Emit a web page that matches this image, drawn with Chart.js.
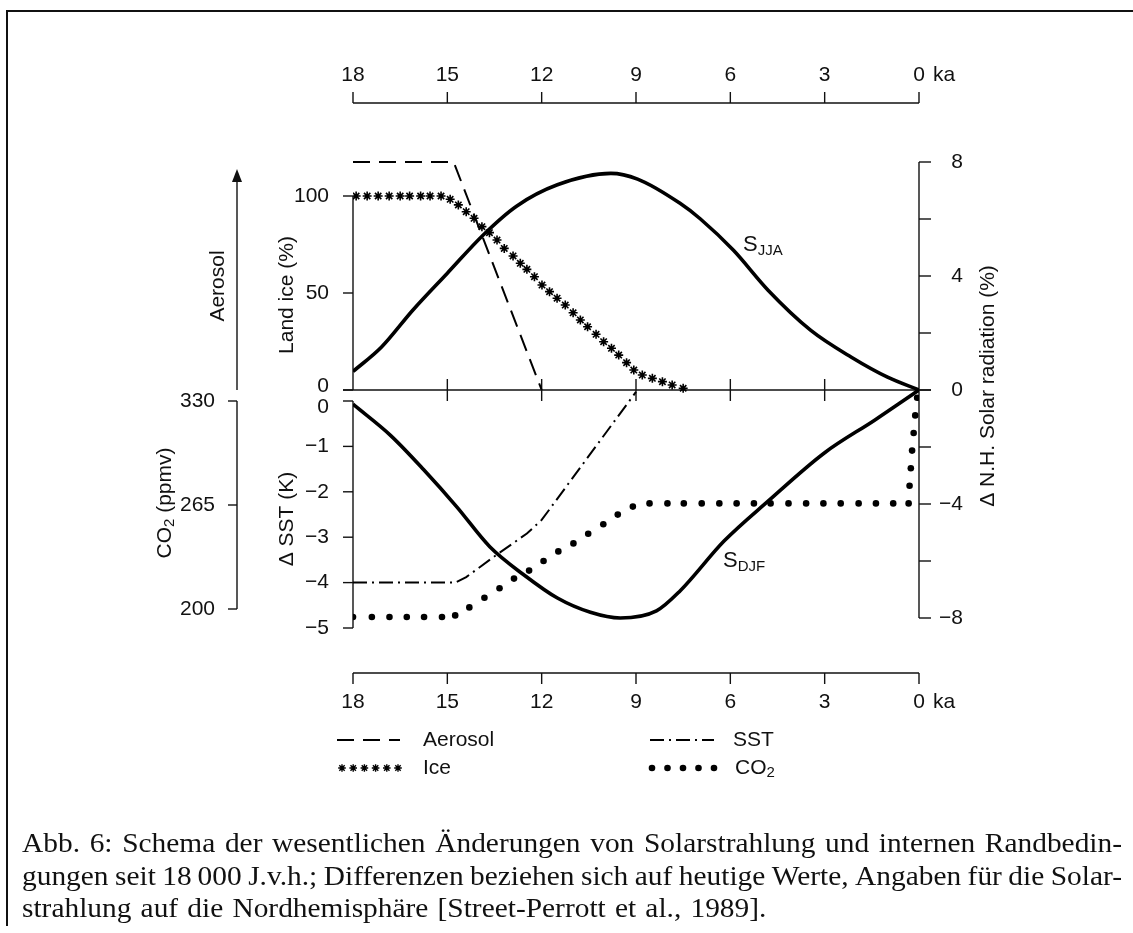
<!DOCTYPE html>
<html>
<head>
<meta charset="utf-8">
<script src="https://cdn.jsdelivr.net/npm/chart.js@4.4.0/dist/chart.umd.min.js"></script>
<style>
  html, body { margin: 0; padding: 0; background: #fff; }
  #chart { display: block; }
</style>
</head>
<body>
<canvas id="chart" width="1133" height="933"></canvas>
<script>
// ---------------------------------------------------------------
// Values (age in ka before present)
// ---------------------------------------------------------------
const ageTicks = [18, 15, 12, 9, 6, 3, 0];
const iceTicks = [0, 50, 100];
const sstTicks = [0, -1, -2, -3, -4, -5];
const co2Ticks = [330, 265, 200];
const solarTicks = [8, 6, 4, 2, 0, -2, -4, -6, -8];
const solarLabels = [8, 4, 0, -4, -8];

// summer (JJA) and winter (DJF) insolation anomaly, %
const sjjaAge = [18, 17.1, 16.1, 15.0, 13.85, 12.8, 11.5, 9.8, 8.95, 7.6, 6.95, 5.9, 4.8, 3.45, 2.15, 1.0, 0];
const sjjaVal = [0.65, 1.5, 2.8, 4.1, 5.45, 6.45, 7.2, 7.6, 7.4, 6.55, 6.0, 4.9, 3.5, 2.1, 1.15, 0.45, 0];
const sdjfAge = [18, 16.8, 15.75, 14.7, 13.65, 12.55, 11.5, 10.45, 9.5, 8.35, 7.6, 6.2, 4.8, 3.0, 1.4, 0];
const sdjfVal = [-0.5, -1.6, -2.8, -4.1, -5.5, -6.5, -7.3, -7.8, -8.0, -7.75, -7.05, -5.3, -3.9, -2.2, -1.05, 0];

// aerosol (relative, no scale)
const aerosolAge = [18, 14.8, 12.0];
const aerosolVal = [1, 1, 0];

// land ice, % of glacial maximum (one entry per star)
const iceAge = [17.9, 17.55, 17.2, 16.85, 16.5, 16.2, 15.85, 15.55, 15.2,
  14.91, 14.65, 14.4, 14.15, 13.9, 13.66, 13.42, 13.19, 12.91, 12.68,
  12.47, 12.23, 11.99, 11.75, 11.51, 11.25, 11.0, 10.77, 10.54, 10.27,
  10.03, 9.78, 9.55, 9.3, 9.07, 8.8, 8.48, 8.16, 7.85, 7.5];
const iceVal = [100, 100, 100, 100, 100, 100, 100, 100, 100,
  98.3, 95.4, 91.9, 88.5, 84.2, 81.1, 77.3, 73.0, 69.1, 65.3,
  62.2, 58.4, 54.1, 50.7, 47.3, 43.8, 39.8, 36.1, 32.6, 28.7,
  24.9, 21.5, 18.0, 14.1, 10.3, 7.7, 6.0, 4.3, 2.6, 0.9];

// sea surface temperature anomaly, K
const sstAge = [18, 14.75, 14.4, 13.4, 12.47, 12.0, 9.0];
const sstVal = [-4, -4, -3.88, -3.37, -2.92, -2.62, 0.2];

// CO2, ppmv (one entry per dot)
const co2Age = [18.0, 17.4, 16.84, 16.29, 15.74, 15.17, 14.75, 14.3, 13.82, 13.34,
  12.88, 12.4, 11.94, 11.47, 10.99, 10.52, 10.04, 9.58, 9.1, 8.57,
  8.0, 7.48, 6.91, 6.35, 5.8, 5.25, 4.72, 4.15, 3.59, 3.04,
  2.49, 1.92, 1.37, 0.82, 0.33, 0.3, 0.26, 0.22, 0.17, 0.12, 0.06];
const co2Val = [195, 195, 195, 195, 195, 195, 196, 201, 207, 213,
  219, 224, 230, 236, 241, 247, 253, 259, 264, 266,
  266, 266, 266, 266, 266, 266, 266, 266, 266, 266,
  266, 266, 266, 266, 266, 277, 288, 299, 310, 321, 332];

const captionLines = [
  'Abb. 6: Schema der wesentlichen Änderungen von Solarstrahlung und internen Randbedin-',
  'gungen seit 18\u2009000 J.v.h.; Differenzen beziehen sich auf heutige Werte, Angaben für die Solar-',
  'strahlung auf die Nordhemisphäre [Street-Perrott et al., 1989].'
];

// ---------------------------------------------------------------
// Layout
// ---------------------------------------------------------------
const W = 1133, H = 933;
const AREA = { left: 353, right: 919, top: 150, bottom: 640 };
const INK = '#111';
const SANS = '"Liberation Sans", Arial, Helvetica, sans-serif';
const SERIF = '"Liberation Serif", "Times New Roman", serif';
const FS = 21;          // axis text size
const STRETCH = 1.0;    // horizontal stretch of the axis lettering
const TICK = 10;
const TOP_AXIS_Y = 103, BOTTOM_AXIS_Y = 673;
const CO2_AXIS_X = 237;

// where two values of each vertical axis sit on the page
const ICE_PX = [[0, 390], [100, 196]];
const AER_PX = [[0, 390], [1, 162]];
const SST_PX = [[0, 401], [-5, 628]];
const CO2_PX = [[330, 401], [200, 609]];
const SOL_PX = [[8, 162], [-8, 618]];

function pxRange(anchors) {
    const [[v1, p1], [v2, p2]] = anchors;
    const s = (p2 - p1) / (v2 - v1);
    return { min: v1 + (AREA.bottom - p1) / s, max: v1 + (AREA.top - p1) / s };
}

const pts = (xs, ys) => xs.map((x, i) => ({ x, y: ys[i] }));

const STYLE = {
    solar: { width: 3.6 },
    aerosol: { width: 2, dash: [17, 9] },
    sst: { width: 2, dash: [14, 5, 2, 5] },
    ice: { radius: 4.5, width: 1.6 },
    co2: { radius: 3.3 }
};

// ---------------------------------------------------------------
// Drawing helpers
// ---------------------------------------------------------------
function seg(ctx, x1, y1, x2, y2) {
    ctx.beginPath(); ctx.moveTo(x1, y1); ctx.lineTo(x2, y2); ctx.stroke();
}

// parts: [{t, size, dy}] drawn in a row; anchor 'left' | 'center' | 'right'
function rich(ctx, parts, x, y, anchor, rot, stretch) {
    ctx.save();
    ctx.translate(x, y);
    ctx.scale(stretch || STRETCH, 1);
    ctx.rotate(rot || 0);
    let total = 0;
    parts.forEach(p => {
        ctx.font = `${p.size || FS}px ${p.font || SANS}`;
        p.w = ctx.measureText(p.t).width;
        total += p.w;
    });
    let cx = anchor === 'left' ? 0 : anchor === 'right' ? -total : -total / 2;
    ctx.textAlign = 'left';
    ctx.textBaseline = 'middle';
    ctx.fillStyle = INK;
    parts.forEach(p => {
        ctx.font = `${p.size || FS}px ${p.font || SANS}`;
        ctx.fillText(p.t, cx, p.dy || 0);
        cx += p.w;
    });
    ctx.restore();
}
const label = (ctx, t, x, y, anchor, rot) => rich(ctx, [{ t }], x, y, anchor || 'center', rot);
const num = v => (v < 0 ? '\u2212' + Math.abs(v) : String(v));

const schemaAxes = {
    id: 'schemaAxes',
    beforeDatasetsDraw(chart) {
        const { ctx, scales: s } = chart;
        const X = v => s.x.getPixelForValue(v);
        const xL = X(18), xR = X(0);
        const yIce = v => s.yIce.getPixelForValue(v);
        const ySST = v => s.ySST.getPixelForValue(v);
        const yCO2 = v => s.yCO2.getPixelForValue(v);
        const ySol = v => s.ySol.getPixelForValue(v);
        const yAer = v => s.yAer.getPixelForValue(v);
        const zeroY = yIce(0);

        ctx.save();
        ctx.strokeStyle = INK;
        ctx.fillStyle = INK;

        // frame round the figure (top and left only)
        ctx.lineWidth = 2;
        seg(ctx, 7, 11, W, 11);
        seg(ctx, 7, 10, 7, 926);

        ctx.lineWidth = 1.4;
        // top and bottom age axes
        [[TOP_AXIS_Y, -11], [BOTTOM_AXIS_Y, 11]].forEach(([y, t]) => {
            seg(ctx, xL, y, xR, y);
            ageTicks.forEach(a => seg(ctx, X(a), y, X(a), y + t));
        });

        // upper panel: land ice axis and shared zero line
        seg(ctx, xL, yIce(100), xL, zeroY);
        iceTicks.forEach(v => seg(ctx, xL - TICK, yIce(v), xL, yIce(v)));
        seg(ctx, xL - TICK, zeroY, xR + 12, zeroY);
        ageTicks.slice(1, -1).forEach(a => seg(ctx, X(a), zeroY - 11, X(a), zeroY + 11));

        // lower panel: SST axis
        seg(ctx, xL, ySST(0), xL, ySST(-5));
        sstTicks.forEach(v => seg(ctx, xL - TICK, ySST(v), xL, ySST(v)));

        // right axis: solar radiation
        seg(ctx, xR, ySol(8), xR, ySol(-8));
        solarTicks.forEach(v => seg(ctx, xR, ySol(v), xR + 12, ySol(v)));

        // CO2 axis
        seg(ctx, CO2_AXIS_X, yCO2(330), CO2_AXIS_X, yCO2(200));
        co2Ticks.forEach(v => seg(ctx, CO2_AXIS_X - 9, yCO2(v), CO2_AXIS_X, yCO2(v)));

        // aerosol arrow
        const tip = yAer(1) + 7;
        seg(ctx, CO2_AXIS_X, yAer(0), CO2_AXIS_X, tip + 6);
        ctx.beginPath();
        ctx.moveTo(CO2_AXIS_X, tip);
        ctx.lineTo(CO2_AXIS_X - 5, tip + 13);
        ctx.lineTo(CO2_AXIS_X + 5, tip + 13);
        ctx.closePath();
        ctx.fill();
        ctx.restore();
    },
    afterDraw(chart) {
        const { ctx, scales: s } = chart;
        const X = v => s.x.getPixelForValue(v);
        const xL = X(18), xR = X(0);
        const yIce = v => s.yIce.getPixelForValue(v);
        const ySST = v => s.ySST.getPixelForValue(v);
        const yCO2 = v => s.yCO2.getPixelForValue(v);
        const ySol = v => s.ySol.getPixelForValue(v);
        const UP = -Math.PI / 2;

        ctx.save();
        // age labels
        [TOP_AXIS_Y - 28, BOTTOM_AXIS_Y + 29].forEach(y => {
            ageTicks.forEach(a => label(ctx, String(a), X(a), y));
            label(ctx, 'ka', xR + 14, y, 'left');
        });

        // left labels
        iceTicks.forEach(v => label(ctx, String(v), xL - 24, yIce(v) - (v === 0 ? 4 : 0), 'right'));
        sstTicks.forEach(v => label(ctx, num(v), xL - 24, ySST(v) + (v === 0 ? 6 : 0), 'right'));
        co2Ticks.forEach(v => label(ctx, String(v), CO2_AXIS_X - 22, yCO2(v), 'right'));
        // right labels
        solarLabels.forEach(v => label(ctx, num(v), xR + 44, ySol(v), 'right'));

        // axis titles
        label(ctx, 'Aerosol', 218, 286, 'center', UP);
        label(ctx, 'Land ice (%)', 287, 295, 'center', UP);
        label(ctx, '\u0394 SST (K)', 287, 519, 'center', UP);
        rich(ctx, [{ t: 'CO' }, { t: '2', size: 15, dy: 5 }, { t: ' (ppmv)' }], 165, 503, 'center', UP);
        label(ctx, '\u0394 N.H. Solar radiation (%)', 988, 386, 'center', UP);

        // curve names
        rich(ctx, [{ t: 'S', size: 22 }, { t: 'JJA', size: 15, dy: 6 }], 743, 245, 'left');
        rich(ctx, [{ t: 'S', size: 22 }, { t: 'DJF', size: 15, dy: 6 }], 723, 561, 'left');

        // legend
        const r1 = 740, r2 = 768;
        ctx.strokeStyle = '#000';
        ctx.lineWidth = 2;
        ctx.setLineDash(STYLE.aerosol.dash);
        seg(ctx, 337, r1, 400, r1);
        ctx.setLineDash(STYLE.sst.dash);
        seg(ctx, 650, r1, 714, r1);
        ctx.setLineDash([]);
        ctx.fillStyle = '#000';
        for (let i = 0; i < 6; i++) {
            ctx.lineWidth = 1.4;
            Chart.helpers.drawPoint(ctx, { pointStyle: 'star', radius: 3.8, borderWidth: 1.4, rotation: 0 }, 342 + i * 11.2, r2);
        }
        for (let i = 0; i < 5; i++) {
            ctx.beginPath();
            ctx.arc(652 + i * 15.5, r2, STYLE.co2.radius, 0, Math.PI * 2);
            ctx.fill();
        }
        label(ctx, 'Aerosol', 423, r1, 'left');
        label(ctx, 'Ice', 423, r2, 'left');
        label(ctx, 'SST', 733, r1, 'left');
        rich(ctx, [{ t: 'CO' }, { t: '2', size: 15, dy: 5 }], 735, r2, 'left');

        // caption, justified
        const capFont = 28, capX = 22, capW = 1100, capStretch = 1.05;
        const baselines = [852, 885, 917];
        ctx.fillStyle = INK;
        ctx.textBaseline = 'alphabetic';
        ctx.textAlign = 'left';
        captionLines.forEach((line, li) => {
            ctx.save();
            ctx.translate(capX, baselines[li]);
            ctx.scale(capStretch, 1);
            ctx.font = `${capFont}px ${SERIF}`;
            const words = line.split(' ');
            const widths = words.map(w => ctx.measureText(w).width);
            const sum = widths.reduce((a, b) => a + b, 0);
            const justify = li < captionLines.length - 1;
            const gap = justify ? (capW / capStretch - sum) / (words.length - 1) : ctx.measureText(' ').width * 1.25;
            let cx = 0;
            words.forEach((w, i) => { ctx.fillText(w, cx, 0); cx += widths[i] + gap; });
            ctx.restore();
        });
        ctx.restore();
    }
};

new Chart(document.getElementById('chart'), {
    type: 'scatter',
    data: {
        datasets: [
            { label: 'S JJA', data: pts(sjjaAge, sjjaVal), yAxisID: 'ySol', showLine: true,
              borderColor: '#000', borderWidth: STYLE.solar.width, pointRadius: 0, cubicInterpolationMode: 'monotone' },
            { label: 'S DJF', data: pts(sdjfAge, sdjfVal), yAxisID: 'ySol', showLine: true,
              borderColor: '#000', borderWidth: STYLE.solar.width, pointRadius: 0, cubicInterpolationMode: 'monotone' },
            { label: 'Aerosol', data: pts(aerosolAge, aerosolVal), yAxisID: 'yAer', showLine: true,
              borderColor: '#000', borderWidth: STYLE.aerosol.width, borderDash: STYLE.aerosol.dash, pointRadius: 0 },
            { label: 'SST', data: pts(sstAge, sstVal), yAxisID: 'ySST', showLine: true,
              borderColor: '#000', borderWidth: STYLE.sst.width, borderDash: STYLE.sst.dash, pointRadius: 0 },
            { label: 'Ice', data: pts(iceAge, iceVal), yAxisID: 'yIce', showLine: false,
              pointStyle: 'star', pointRadius: STYLE.ice.radius, borderColor: '#000', backgroundColor: '#000',
              pointBorderWidth: STYLE.ice.width },
            { label: 'CO2', data: pts(co2Age, co2Val), yAxisID: 'yCO2', showLine: false,
              pointStyle: 'circle', pointRadius: STYLE.co2.radius, borderWidth: 0,
              backgroundColor: '#000', borderColor: '#000' }
        ]
    },
    options: {
        responsive: false,
        animation: false,
        layout: { padding: { left: AREA.left, right: W - AREA.right, top: AREA.top, bottom: H - AREA.bottom } },
        plugins: { legend: { display: false }, tooltip: { enabled: false } },
        events: [],
        scales: {
            x: { type: 'linear', min: 0, max: 18, reverse: true, display: false },
            yIce: { type: 'linear', display: false, ...pxRange(ICE_PX) },
            yAer: { type: 'linear', display: false, ...pxRange(AER_PX) },
            ySST: { type: 'linear', display: false, ...pxRange(SST_PX) },
            yCO2: { type: 'linear', display: false, ...pxRange(CO2_PX) },
            ySol: { type: 'linear', display: false, ...pxRange(SOL_PX) }
        }
    },
    plugins: [schemaAxes]
});
</script>
</body>
</html>
